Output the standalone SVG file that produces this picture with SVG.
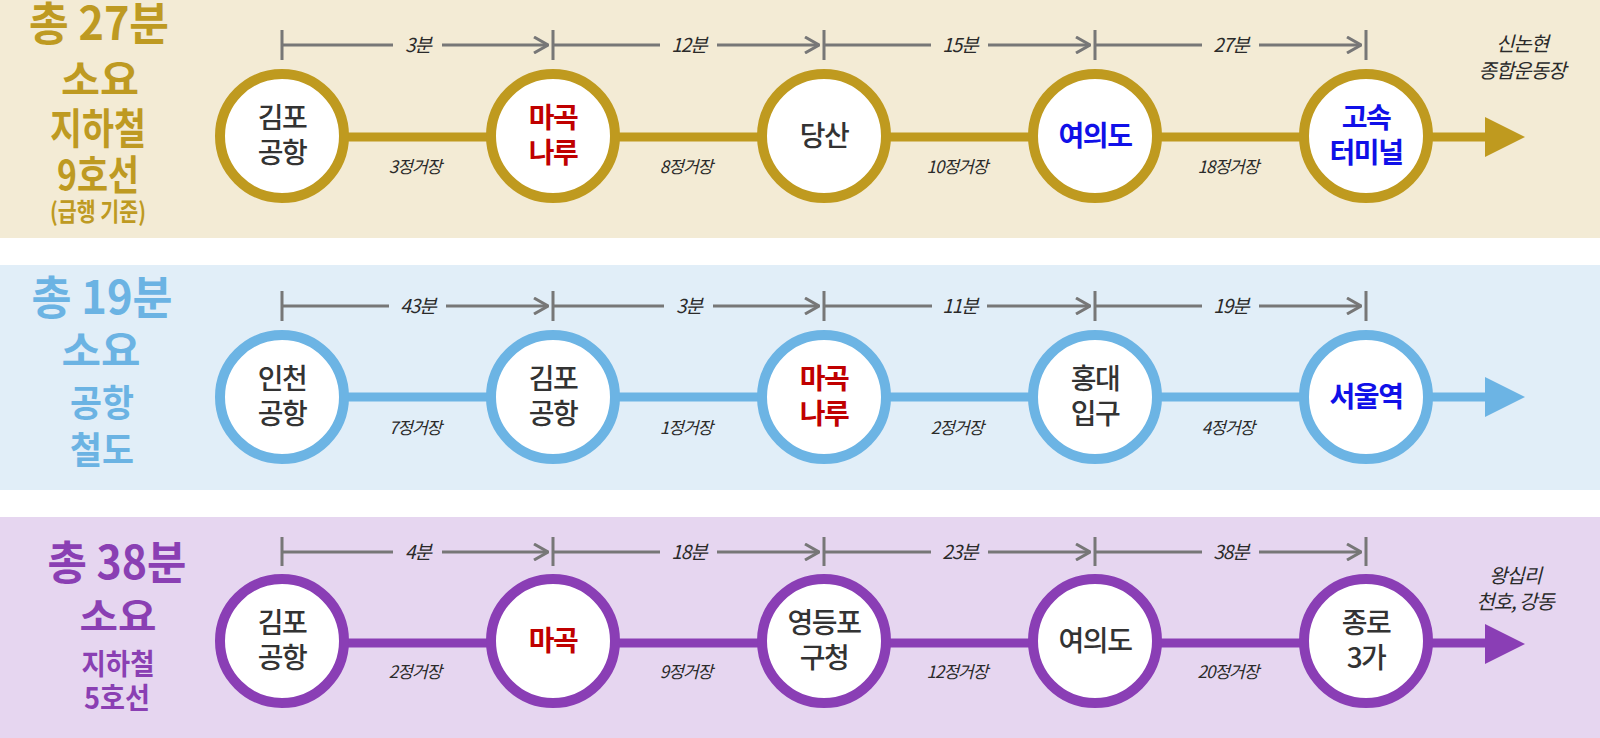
<svg xmlns="http://www.w3.org/2000/svg" width="1600" height="738" viewBox="0 0 1600 738">
<style>
text{font-family:"Noto Sans CJK KR","Noto Sans",sans-serif}
.t1{fill:#BE9A22;font-weight:700;text-anchor:middle}
.t2{fill:#6BB3E3;font-weight:700;text-anchor:middle}
.t3{fill:#8A3FB3;font-weight:700;text-anchor:middle}
.st{font-size:28px;text-anchor:middle;letter-spacing:-1.5px}
.dk{fill:#333333;font-weight:500}
.rd{fill:#C00000;font-weight:700}
.bl{fill:#1010E8;font-weight:700}
.dim{font-size:19px;font-style:italic;fill:#2a2a2a;text-anchor:middle;letter-spacing:-1px}
.stop{font-size:17px;font-style:italic;fill:#2a2a2a;text-anchor:middle;letter-spacing:-1px}
.end{font-size:20px;font-style:italic;fill:#2a2a2a;text-anchor:middle;letter-spacing:-1px}
.dl{stroke:#777777;stroke-width:3;fill:none}
.c1{fill:#fff;stroke:#BF9A1F;stroke-width:10}
.c2{fill:#fff;stroke:#6CB4E4;stroke-width:10}
.c3{fill:#fff;stroke:#8A3EB5;stroke-width:10}
</style>
<defs>
<marker id="chev" viewBox="0 0 16 18" refX="15" refY="9" markerWidth="16" markerHeight="18" markerUnits="userSpaceOnUse" orient="auto">
<polyline points="1,1 15,9 1,17" fill="none" stroke="#777777" stroke-width="3"/>
</marker>
</defs>
<!-- bands -->
<rect x="0" y="0" width="1600" height="238" fill="#F3EBD5"/>
<rect x="0" y="265" width="1600" height="225" fill="#E1EEF8"/>
<rect x="0" y="517" width="1600" height="221" fill="#E6D6F0"/>

<!-- titles -->
<g id="title1">
<text class="t1" x="99" y="40" font-size="46" textLength="140" lengthAdjust="spacingAndGlyphs">총 27분</text>
<text class="t1" x="100" y="94" font-size="40" textLength="78" lengthAdjust="spacingAndGlyphs">소요</text>
<text class="t1" x="98" y="144" font-size="42" textLength="96" lengthAdjust="spacingAndGlyphs">지하철</text>
<text class="t1" x="98" y="190" font-size="41" textLength="82" lengthAdjust="spacingAndGlyphs">9호선</text>
<text class="t1" x="98" y="221" font-size="25" font-weight="500" textLength="96" lengthAdjust="spacingAndGlyphs">(급행 기준)</text>
</g>
<g id="title2">
<text class="t2" x="102" y="314" font-size="46" textLength="141" lengthAdjust="spacingAndGlyphs">총 19분</text>
<text class="t2" x="101" y="365" font-size="40" textLength="79" lengthAdjust="spacingAndGlyphs">소요</text>
<text class="t2" x="102" y="417" font-size="37" textLength="64" lengthAdjust="spacingAndGlyphs">공항</text>
<text class="t2" x="102" y="464" font-size="37" textLength="64" lengthAdjust="spacingAndGlyphs">철도</text>
</g>
<g id="title3">
<text class="t3" x="117" y="579" font-size="46" textLength="139" lengthAdjust="spacingAndGlyphs">총 38분</text>
<text class="t3" x="118" y="630" font-size="38" textLength="77" lengthAdjust="spacingAndGlyphs">소요</text>
<text class="t3" x="118" y="675" font-size="29" textLength="73" lengthAdjust="spacingAndGlyphs">지하철</text>
<text class="t3" x="117" y="709" font-size="29" textLength="66" lengthAdjust="spacingAndGlyphs">5호선</text>
</g>

<!-- connectors -->
<g id="connectors">
<line x1="282" y1="137" x2="1490" y2="137" stroke="#BF9A1F" stroke-width="9"/>
<polygon points="1485,117 1525,137 1485,157" fill="#BF9A1F"/>
<line x1="282" y1="397" x2="1490" y2="397" stroke="#6CB4E4" stroke-width="9"/>
<polygon points="1485,377 1525,397 1485,417" fill="#6CB4E4"/>
<line x1="282" y1="643" x2="1490" y2="643" stroke="#8A3EB5" stroke-width="9"/>
<polygon points="1485,624 1525,644 1485,664" fill="#8A3EB5"/>
</g>

<!-- dimension lines -->
<g id="dimensions" class="dl">
<!-- row 1, y=45 -->
<path d="M282 30V60M553 30V60M824 30V60M1095 30V60M1366 30V60"/>
<path d="M282 45H393M442 45H548" marker-end="url(#chev)"/>
<path d="M553 45H660M717 45H819" marker-end="url(#chev)"/>
<path d="M824 45H931M988 45H1090" marker-end="url(#chev)"/>
<path d="M1095 45H1202M1259 45H1361" marker-end="url(#chev)"/>
<!-- row 2, y=306 -->
<path d="M282 291V321M553 291V321M824 291V321M1095 291V321M1366 291V321"/>
<path d="M282 306H389M446 306H548" marker-end="url(#chev)"/>
<path d="M553 306H664M713 306H819" marker-end="url(#chev)"/>
<path d="M824 306H932M987 306H1090" marker-end="url(#chev)"/>
<path d="M1095 306H1202M1259 306H1361" marker-end="url(#chev)"/>
<!-- row 3, y=552 -->
<path d="M282 537V566M553 537V566M824 537V566M1095 537V566M1366 537V566"/>
<path d="M282 552H393M442 552H548" marker-end="url(#chev)"/>
<path d="M553 552H660M717 552H819" marker-end="url(#chev)"/>
<path d="M824 552H931M988 552H1090" marker-end="url(#chev)"/>
<path d="M1095 552H1202M1259 552H1361" marker-end="url(#chev)"/>
</g>
<g id="dimension-labels">
<text class="dim" x="418" y="52">3분</text>
<text class="dim" x="689" y="52">12분</text>
<text class="dim" x="960" y="52">15분</text>
<text class="dim" x="1231" y="52">27분</text>
<text class="dim" x="418" y="313">43분</text>
<text class="dim" x="689" y="313">3분</text>
<text class="dim" x="960" y="313">11분</text>
<text class="dim" x="1231" y="313">19분</text>
<text class="dim" x="418" y="559">4분</text>
<text class="dim" x="689" y="559">18분</text>
<text class="dim" x="960" y="559">23분</text>
<text class="dim" x="1231" y="559">38분</text>
</g>
<g id="stop-labels">
<text class="stop" x="415" y="173">3정거장</text>
<text class="stop" x="686" y="173">8정거장</text>
<text class="stop" x="957" y="173">10정거장</text>
<text class="stop" x="1228" y="173">18정거장</text>
<text class="stop" x="415" y="434">7정거장</text>
<text class="stop" x="686" y="434">1정거장</text>
<text class="stop" x="957" y="434">2정거장</text>
<text class="stop" x="1228" y="434">4정거장</text>
<text class="stop" x="415" y="678">2정거장</text>
<text class="stop" x="686" y="678">9정거장</text>
<text class="stop" x="957" y="678">12정거장</text>
<text class="stop" x="1228" y="678">20정거장</text>
</g>

<!-- row 1 nodes -->
<g id="r1-gimpo"><circle class="c1" cx="282" cy="136" r="62"/><text class="st dk" x="282" y="128">김포</text><text class="st dk" x="282" y="163">공항</text></g>
<g id="r1-magoknaru"><circle class="c1" cx="553" cy="136" r="62"/><text class="st rd" x="553" y="128">마곡</text><text class="st rd" x="553" y="163">나루</text></g>
<g id="r1-dangsan"><circle class="c1" cx="824" cy="136" r="62"/><text class="st dk" x="824" y="146">당산</text></g>
<g id="r1-yeouido"><circle class="c1" cx="1095" cy="136" r="62"/><text class="st bl" x="1095" y="146">여의도</text></g>
<g id="r1-terminal"><circle class="c1" cx="1366" cy="136" r="62"/><text class="st bl" x="1366" y="128">고속</text><text class="st bl" x="1366" y="163">터미널</text></g>
<g id="r1-end"><text class="end" x="1522" y="51">신논현</text><text class="end" x="1522" y="78">종합운동장</text></g>

<!-- row 2 nodes -->
<g id="r2-incheon"><circle class="c2" cx="282" cy="397" r="62"/><text class="st dk" x="282" y="389">인천</text><text class="st dk" x="282" y="424">공항</text></g>
<g id="r2-gimpo"><circle class="c2" cx="553" cy="397" r="62"/><text class="st dk" x="553" y="389">김포</text><text class="st dk" x="553" y="424">공항</text></g>
<g id="r2-magoknaru"><circle class="c2" cx="824" cy="397" r="62"/><text class="st rd" x="824" y="389">마곡</text><text class="st rd" x="824" y="424">나루</text></g>
<g id="r2-hongdae"><circle class="c2" cx="1095" cy="397" r="62"/><text class="st dk" x="1095" y="389">홍대</text><text class="st dk" x="1095" y="424">입구</text></g>
<g id="r2-seoul"><circle class="c2" cx="1366" cy="397" r="62"/><text class="st bl" x="1366" y="407">서울역</text></g>

<!-- row 3 nodes -->
<g id="r3-gimpo"><circle class="c3" cx="282" cy="641" r="62"/><text class="st dk" x="282" y="633">김포</text><text class="st dk" x="282" y="668">공항</text></g>
<g id="r3-magok"><circle class="c3" cx="553" cy="641" r="62"/><text class="st rd" x="553" y="651">마곡</text></g>
<g id="r3-yeongdeungpo"><circle class="c3" cx="824" cy="641" r="62"/><text class="st dk" x="824" y="633">영등포</text><text class="st dk" x="824" y="668">구청</text></g>
<g id="r3-yeouido"><circle class="c3" cx="1095" cy="641" r="62"/><text class="st dk" x="1095" y="651">여의도</text></g>
<g id="r3-jongno"><circle class="c3" cx="1366" cy="641" r="62"/><text class="st dk" x="1366" y="633">종로</text><text class="st dk" x="1366" y="668">3가</text></g>
<g id="r3-end"><text class="end" x="1515" y="583">왕십리</text><text class="end" x="1515" y="609">천호, 강동</text></g>
</svg>
